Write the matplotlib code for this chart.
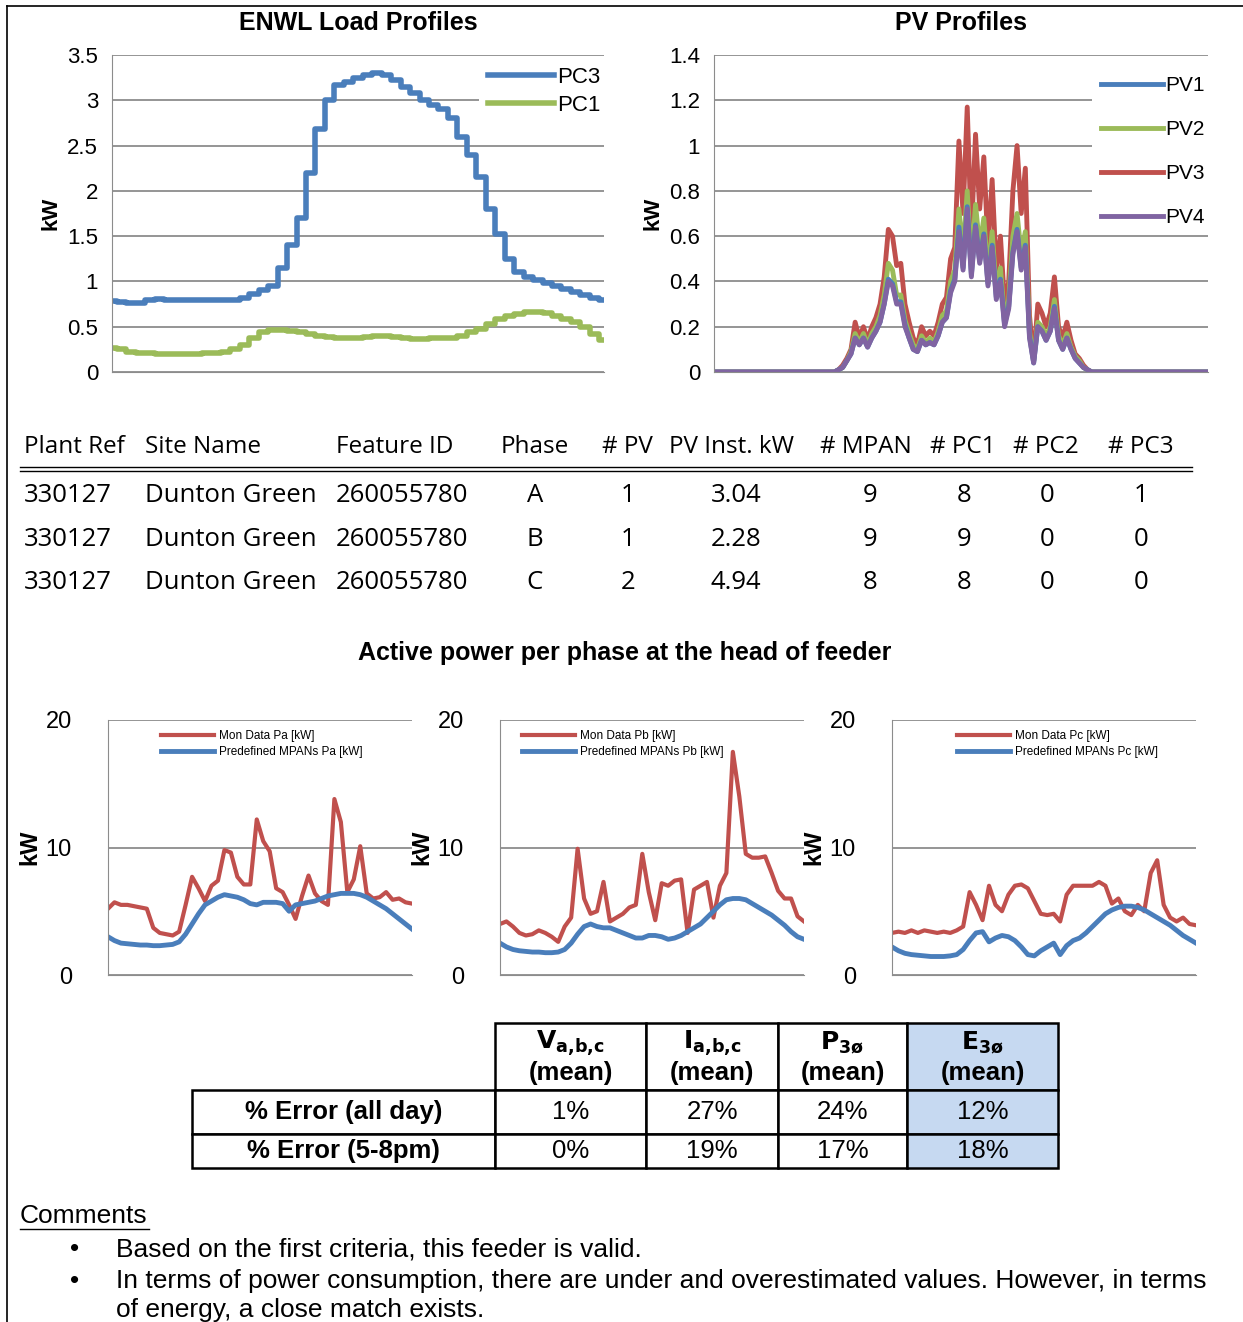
import numpy as np
import matplotlib
matplotlib.use('Agg')
import matplotlib.pyplot as plt
from matplotlib.patches import Rectangle
from matplotlib.lines import Line2D

plt.rcParams['font.family'] = ['Liberation Sans', 'DejaVu Sans']

# ENWL load profiles
pc3 = [0.78, 0.77, 0.76, 0.76, 0.80, 0.81, 0.80, 0.80, 0.80, 0.79, 0.79, 0.80, 0.80, 0.80,
       0.82, 0.86, 0.90, 0.95, 1.15, 1.40, 1.70, 2.20, 2.68, 3.00, 3.17, 3.20, 3.25, 3.28,
       3.30, 3.28, 3.22, 3.15, 3.08, 3.00, 2.95, 2.90, 2.80, 2.60, 2.40, 2.15, 1.80, 1.52,
       1.25, 1.10, 1.05, 1.02, 0.98, 0.95, 0.92, 0.88, 0.85, 0.82, 0.80]
pc1 = [0.27, 0.25, 0.22, 0.21, 0.21, 0.20, 0.20, 0.20, 0.20, 0.20, 0.21, 0.21, 0.22, 0.25,
       0.30, 0.38, 0.44, 0.46, 0.46, 0.45, 0.44, 0.42, 0.40, 0.39, 0.38, 0.38, 0.38, 0.39,
       0.40, 0.40, 0.39, 0.37, 0.36, 0.36, 0.37, 0.37, 0.38, 0.40, 0.44, 0.48, 0.53, 0.58,
       0.62, 0.64, 0.66, 0.66, 0.65, 0.62, 0.58, 0.55, 0.50, 0.42, 0.35]

# PV profiles (daylight part; zeros before/after)
pv_zeros_before = 30
pv_zeros_after = 29
pv3_day = [0.01, 0.03, 0.06, 0.10, 0.22, 0.15, 0.20, 0.14, 0.20, 0.24, 0.30, 0.42, 0.63, 0.60,
           0.47, 0.48, 0.30, 0.22, 0.15, 0.12, 0.20, 0.16, 0.18, 0.16, 0.22, 0.30, 0.33, 0.50,
           0.55, 1.02, 0.70, 1.17, 0.60, 1.05, 0.72, 0.95, 0.55, 0.85, 0.45, 0.60, 0.30, 0.40,
           0.80, 1.00, 0.70, 0.90, 0.25, 0.05, 0.30, 0.26, 0.20, 0.26, 0.42, 0.20, 0.15, 0.22,
           0.14, 0.08, 0.06, 0.03, 0.01]
pv4_day = [0.01, 0.02, 0.05, 0.08, 0.15, 0.12, 0.15, 0.11, 0.15, 0.18, 0.22, 0.30, 0.40, 0.38,
           0.30, 0.30, 0.20, 0.15, 0.10, 0.09, 0.14, 0.12, 0.13, 0.12, 0.16, 0.22, 0.24, 0.35,
           0.40, 0.62, 0.45, 0.72, 0.42, 0.64, 0.48, 0.60, 0.38, 0.55, 0.32, 0.40, 0.20, 0.28,
           0.52, 0.62, 0.45, 0.55, 0.15, 0.04, 0.20, 0.18, 0.14, 0.18, 0.28, 0.14, 0.10, 0.15,
           0.10, 0.06, 0.04, 0.02, 0.01]
pv2_day = [0.01, 0.02, 0.05, 0.09, 0.17, 0.13, 0.17, 0.12, 0.17, 0.20, 0.25, 0.34, 0.48, 0.45,
           0.34, 0.34, 0.23, 0.17, 0.12, 0.10, 0.16, 0.13, 0.15, 0.13, 0.18, 0.25, 0.27, 0.40,
           0.45, 0.72, 0.52, 0.80, 0.48, 0.74, 0.55, 0.68, 0.43, 0.62, 0.36, 0.46, 0.23, 0.32,
           0.60, 0.70, 0.52, 0.62, 0.18, 0.05, 0.22, 0.20, 0.16, 0.20, 0.32, 0.16, 0.12, 0.17,
           0.11, 0.07, 0.05, 0.02, 0.01]
pv1_day = [0.01, 0.02, 0.05, 0.08, 0.15, 0.12, 0.15, 0.11, 0.15, 0.18, 0.22, 0.30, 0.41, 0.39,
           0.31, 0.31, 0.21, 0.15, 0.10, 0.09, 0.14, 0.12, 0.13, 0.12, 0.16, 0.22, 0.24, 0.36,
           0.41, 0.64, 0.46, 0.73, 0.43, 0.65, 0.49, 0.61, 0.39, 0.56, 0.33, 0.41, 0.21, 0.29,
           0.53, 0.63, 0.46, 0.56, 0.16, 0.04, 0.20, 0.18, 0.14, 0.18, 0.29, 0.14, 0.10, 0.15,
           0.10, 0.06, 0.04, 0.02, 0.01]

# Active power per phase
pa_mon = [5.2, 5.7, 5.5, 5.5, 5.4, 5.3, 5.2, 3.7, 3.3, 3.2, 3.1, 3.4, 5.5, 7.7, 6.8, 5.8, 7.0, 7.4,
          9.8, 9.6, 7.7, 7.1, 7.1, 12.2, 10.5, 9.7, 6.8, 6.5, 5.5, 4.4, 6.2, 7.8, 6.4, 5.8, 5.5,
          13.8, 12.0, 6.5, 7.5, 10.1, 6.4, 6.0, 6.1, 6.5, 5.9, 6.0, 5.7, 5.6]
pa_pre = [3.0, 2.7, 2.5, 2.45, 2.4, 2.35, 2.35, 2.3, 2.3, 2.35, 2.4, 2.6, 3.2, 4.0, 4.8, 5.5, 5.8,
          6.1, 6.3, 6.2, 6.1, 5.9, 5.6, 5.5, 5.7, 5.7, 5.7, 5.6, 5.0, 5.5, 5.6, 5.7, 5.8, 6.0, 6.2,
          6.3, 6.4, 6.4, 6.4, 6.3, 6.1, 5.8, 5.5, 5.2, 4.8, 4.4, 4.0, 3.6]
pb_mon = [4.0, 4.2, 3.8, 3.3, 3.1, 3.2, 3.5, 3.3, 3.0, 2.6, 3.8, 4.5, 9.9, 6.0, 4.8, 5.0, 7.3, 4.2,
          4.5, 4.8, 5.3, 5.5, 9.5, 6.5, 4.3, 7.2, 7.0, 7.4, 7.5, 3.3, 6.7, 7.0, 7.3, 4.5, 7.0, 8.0,
          17.5, 14.0, 9.5, 9.2, 9.2, 9.3, 8.0, 6.6, 6.0, 6.0, 4.6, 4.2]
pb_pre = [2.5, 2.2, 2.0, 1.9, 1.85, 1.8, 1.8, 1.75, 1.75, 1.8, 2.0, 2.5, 3.2, 3.8, 4.0, 3.8, 3.7,
          3.7, 3.5, 3.3, 3.1, 2.9, 2.9, 3.1, 3.1, 3.0, 2.8, 2.9, 3.1, 3.4, 3.7, 4.0, 4.5, 5.0, 5.5,
          5.9, 6.0, 6.0, 5.9, 5.6, 5.3, 5.0, 4.7, 4.3, 3.9, 3.4, 3.0, 2.8]
pc_mon = [3.3, 3.4, 3.3, 3.5, 3.3, 3.5, 3.4, 3.3, 3.4, 3.3, 3.5, 3.8, 6.5, 5.5, 4.3, 7.0, 5.5, 5.0,
          6.3, 7.0, 7.1, 6.8, 5.8, 4.8, 4.7, 4.8, 4.2, 6.3, 7.0, 7.0, 7.0, 7.0, 7.3, 7.0, 5.6, 6.0,
          5.0, 4.7, 5.5, 5.0, 8.0, 9.0, 5.5, 4.5, 4.2, 4.5, 4.0, 3.9]
pc_pre = [2.2, 1.9, 1.7, 1.6, 1.55, 1.5, 1.45, 1.45, 1.45, 1.5, 1.6, 2.0, 2.7, 3.3, 3.4, 2.6, 2.9,
          3.1, 3.0, 2.7, 2.2, 1.6, 1.5, 1.9, 2.2, 2.5, 1.6, 2.3, 2.7, 2.9, 3.3, 3.8, 4.3, 4.8, 5.1,
          5.3, 5.4, 5.4, 5.3, 5.1, 4.8, 4.5, 4.2, 3.9, 3.5, 3.1, 2.8, 2.5]

table_header = ['Plant Ref', 'Site Name', 'Feature ID', 'Phase', '# PV', 'PV Inst. kW',
                '# MPAN', '# PC1', '# PC2', '# PC3']
table_rows = [['330127', 'Dunton Green', '260055780', 'A', '1', '3.04', '9', '8', '0', '1'],
              ['330127', 'Dunton Green', '260055780', 'B', '1', '2.28', '9', '9', '0', '0'],
              ['330127', 'Dunton Green', '260055780', 'C', '2', '4.94', '8', '8', '0', '0']]

err_cols = [('V', 'a{,}b{,}c'), ('I', 'a{,}b{,}c'), ('P', r'3\o'), ('E', r'3\o')]
err_rows = ['% Error (all day)', '% Error (5-8pm)']
err_vals = [['1%', '27%', '24%', '12%'], ['0%', '19%', '17%', '18%']]

BLUE = '#4a7ebb'
GREEN = '#9bbb59'
RED = '#c0504d'
PURPLE = '#8064a2'
GRID = '#8c8c8c'

W, H = 1243, 1322
fig = plt.figure(figsize=(W / 100, H / 100), dpi=100)


def ax_px(x0, y0, x1, y1):
    return fig.add_axes([x0 / W, 1 - y1 / H, (x1 - x0) / W, (y1 - y0) / H])


def style(ax, ymax, step, fmt):
    ax.set_ylim(0, ymax)
    ax.set_yticks(np.arange(0, ymax + 1e-9, step))
    ax.set_yticklabels([fmt(v) for v in np.arange(0, ymax + 1e-9, step)], fontsize=16)
    ax.set_xticks([])
    ax.grid(axis='y', color=GRID, lw=1.3)
    ax.set_axisbelow(True)
    for s in ['top', 'right']:
        ax.spines[s].set_visible(False)
    ax.spines['left'].set_color(GRID)
    ax.spines['bottom'].set_color(GRID)
    ax.tick_params(axis='y', length=0, pad=10)


def num(v):
    return ('%g' % round(v, 2))


# ENWL
ax1 = ax_px(112, 55, 604, 372)
x = np.arange(len(pc3))
ax1.step(x, pc3, where='mid', color=BLUE, lw=4, label='PC3')
ax1.step(x, pc1, where='mid', color=GREEN, lw=4, label='PC1')
ax1.set_xlim(0, len(pc3) - 1)
style(ax1, 3.5, 0.5, num)
ax1.set_ylabel('kW', fontsize=16, fontweight='bold', labelpad=4)
ax1.set_title('ENWL Load Profiles', fontsize=18, fontweight='bold', pad=18)
ax1.legend(loc='upper right', bbox_to_anchor=(1.01, 0.99), frameon=True, edgecolor='none',
           fontsize=16, handlelength=3, handletextpad=0.1, labelspacing=0.3,
           borderaxespad=0, framealpha=1)

# PV
ax2 = ax_px(714, 55, 1208, 372)
pv = {}
for name, day in [('PV1', pv1_day), ('PV2', pv2_day), ('PV3', pv3_day), ('PV4', pv4_day)]:
    pv[name] = np.concatenate([np.zeros(pv_zeros_before), day, np.zeros(pv_zeros_after)])
xp = np.arange(len(pv['PV1']))
ax2.plot(xp, pv['PV3'], color=RED, lw=3.5, label='PV3')
ax2.plot(xp, pv['PV2'], color=GREEN, lw=3.5, label='PV2')
ax2.plot(xp, pv['PV1'], color=BLUE, lw=3.5, label='PV1')
ax2.plot(xp, pv['PV4'], color=PURPLE, lw=3.5, label='PV4')
ax2.set_xlim(0, len(xp) - 1)
style(ax2, 1.4, 0.2, num)
ax2.set_ylabel('kW', fontsize=16, fontweight='bold', labelpad=4)
ax2.set_title('PV Profiles', fontsize=18, fontweight='bold', pad=18)
hs, ls = ax2.get_legend_handles_labels()
order = [2, 1, 0, 3]
ax2.legend([hs[i] for i in order], [ls[i] for i in order], loc='upper right',
           bbox_to_anchor=(1.01, 0.96), frameon=True, edgecolor='none', fontsize=15,
           handlelength=3, handletextpad=0.1, labelspacing=1.2, borderaxespad=0, framealpha=1)

# feeder table
hx = [24, 145, 336, 501, 602, 669, 820, 930, 1013, 1108]
for xx, t in zip(hx, table_header):
    fig.text(xx / W, 1 - 447 / H, t, fontsize=17.5, family='Open Sans', va='center')
for yy in (467, 471):
    fig.add_artist(Line2D([20 / W, 1192 / W], [1 - yy / H] * 2, color='black', lw=1))
cx = [(24, 'left'), (145, 'left'), (336, 'left'), (535, 'center'), (628, 'center'),
      (736, 'center'), (870, 'center'), (964, 'center'), (1047, 'center'), (1141, 'center')]
for yy, row in zip([495, 539, 582], table_rows):
    for (xx, ha), t in zip(cx, row):
        fig.text(xx / W, 1 - yy / H, t, fontsize=18.5, family='Open Sans', va='center', ha=ha)

fig.text(625 / W, 1 - 653 / H, 'Active power per phase at the head of feeder',
         fontsize=18, fontweight='bold', ha='center', va='center')

# phase charts
phases = [(108, 412, pa_mon, pa_pre, 'Pa', 0.15), (500, 804, pb_mon, pb_pre, 'Pb', 0.05),
          (892, 1196, pc_mon, pc_pre, 'Pc', 0.19)]
for x0, x1, mon, pre, ph, lx in phases:
    ax = ax_px(x0, 720, x1, 975)
    xi = np.arange(len(mon))
    ax.plot(xi, mon, color=RED, lw=3, label='Mon Data %s [kW]' % ph)
    ax.plot(xi, pre, color=BLUE, lw=3.5, label='Predefined MPANs %s [kW]' % ph)
    ax.set_xlim(0, len(mon) - 1)
    style(ax, 20, 10, lambda v: '%d' % v)
    ax.tick_params(axis='y', labelsize=17, pad=26)
    ax.set_ylabel('kW', fontsize=17, fontweight='bold', labelpad=3)
    ax.legend(loc='upper left', bbox_to_anchor=(lx, 0.99), frameon=False, fontsize=8.5,
              handlelength=4.5, handletextpad=0.4, labelspacing=0.35, borderaxespad=0.2)

# error table
col_x = [192, 495, 646, 778, 907, 1058]
row_y = [1023, 1090, 1134, 1168]


def rect(x0, y0, x1, y1, fc='white'):
    fig.add_artist(Rectangle((x0 / W, 1 - y1 / H), (x1 - x0) / W, (y1 - y0) / H,
                             facecolor=fc, edgecolor='black', lw=1.8))


for i in range(4):
    fc = '#c6d9f1' if i == 3 else 'white'
    rect(col_x[i + 1], row_y[0], col_x[i + 2], row_y[1], fc)
    sym, sub = err_cols[i]
    cxm = (col_x[i + 1] + col_x[i + 2]) / 2
    fig.text(cxm / W, 1 - 1043 / H, r'$\mathbf{%s_{%s}}$' % (sym, sub),
             fontsize=18, ha='center', va='center')
    fig.text(cxm / W, 1 - 1073 / H, '(mean)', fontsize=18.5, fontweight='bold',
             ha='center', va='center')
for r in range(2):
    y0, y1 = row_y[r + 1], row_y[r + 2]
    rect(col_x[0], y0, col_x[1], y1)
    fig.text((col_x[0] + col_x[1]) / 2 / W, 1 - (y0 + y1) / 2 / H, err_rows[r], fontsize=18.5,
             fontweight='bold', ha='center', va='center')
    for i in range(4):
        fc = '#c6d9f1' if i == 3 else 'white'
        rect(col_x[i + 1], y0, col_x[i + 2], y1, fc)
        fig.text((col_x[i + 1] + col_x[i + 2]) / 2 / W, 1 - (y0 + y1) / 2 / H, err_vals[r][i],
                 fontsize=18.5, ha='center', va='center')

# comments
fig.text(20 / W, 1 - 1216 / H, 'Comments', fontsize=19, va='center')
fig.add_artist(Line2D([20 / W, 149 / W], [1 - 1229 / H] * 2, color='black', lw=1))
bullets = [(1249, 'Based on the first criteria, this feeder is valid.'),
           (1281, 'In terms of power consumption, there are under and overestimated values. However, in terms'),
           (1310, 'of energy, a close match exists.')]
for i, (yy, t) in enumerate(bullets):
    if i < 2:
        fig.text(75 / W, 1 - yy / H, '•', fontsize=19, va='center', ha='center')
    fig.text(116 / W, 1 - yy / H, t, fontsize=19, va='center')

# page border
fig.add_artist(Line2D([7 / W, 7 / W], [0, 1 - 6 / H], color='black', lw=1.2))
fig.add_artist(Line2D([7 / W, 1], [1 - 6 / H] * 2, color='black', lw=1.2))

fig.savefig('out.png', dpi=100)
